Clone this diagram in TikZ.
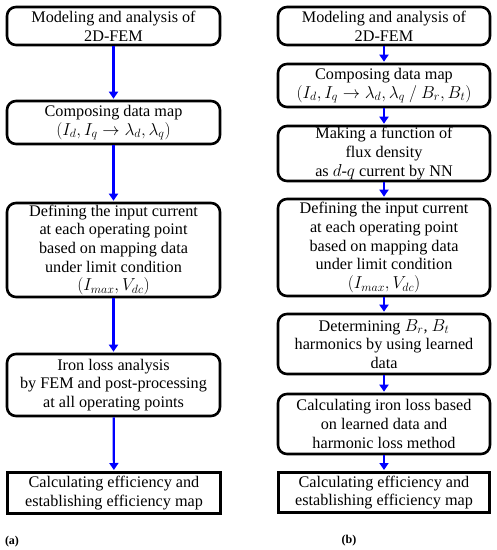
\documentclass[tikz,border=0pt]{standalone}
\usepackage{fontspec}
\setmainfont{Liberation Serif}
\usetikzlibrary{arrows.meta}
\newcommand{\mth}[1]{{\fontsize{16.5}{18.7}\selectfont$#1$}}
\begin{document}
\begin{tikzpicture}[x=1pt,y=-1pt,
  rbox/.style={draw=black, line width=2.6pt, rounded corners=9pt, align=center, inner sep=0pt, font=\fontsize{16.2}{18.7}\selectfont},
  sbox/.style={draw=black, line width=3pt, align=center, inner sep=0pt, font=\fontsize{16.2}{18.7}\selectfont},
  flow/.style={draw={rgb,255:red,0;green,0;blue,255}, line width=2.2pt, -{Triangle[length=7pt,width=9pt]}, shorten >=1pt},
  lab/.style={font=\fontsize{12}{14}\selectfont\bfseries, inner sep=0pt}]
\useasboundingbox (0,0) rectangle (497,550);
% left column
\node[rbox, minimum width=213pt, minimum height=38pt] (L1) at (113.5,26) {Modeling and analysis of\\2D-FEM};
\node[rbox, minimum width=213pt, minimum height=43pt] (L2) at (113.5,122.5) {Composing data map\\[0.5pt]\mth{(I_d, I_q \rightarrow \lambda_d, \lambda_q)}};
\node[rbox, minimum width=213pt, minimum height=94pt] (L3) at (113.5,250) {Defining the input current\\at each operating point\\based on mapping data\\under limit condition\\\mth{(I_{max}, V_{dc})}};
\node[rbox, minimum width=213pt, minimum height=62pt] (L4) at (113.5,385) {Iron loss analysis\\by FEM and post-processing\\at all operating points};
\node[sbox, minimum width=213pt, minimum height=41pt] (L5) at (114,493) {Calculating efficiency and\\establishing efficiency map};
\draw[flow] (L1) -- (L2);
\draw[flow] (L2) -- (L3);
\draw[flow] (L3) -- (L4);
\draw[flow] (L4) -- (L5);
\node[lab] (la) at (12,542) {(a)};
% right column
\node[rbox, minimum width=212pt, minimum height=38pt] (R1) at (384,26) {Modeling and analysis of\\2D-FEM};
\node[rbox, minimum width=212pt, minimum height=43pt] (R2) at (384,85.5) {Composing data map\\[0.5pt]\mth{(I_d, I_q \rightarrow \lambda_d, \lambda_q\ /\ B_r, B_t)}};
\node[rbox, minimum width=212pt, minimum height=55pt] (R3) at (384,153.5) {Making a function of\\flux density\\as \mth{d}-\mth{q} current by NN};
\node[rbox, minimum width=212pt, minimum height=97pt] (R4) at (384,247.5) {Defining the input current\\at each operating point\\based on mapping data\\under limit condition\\\mth{(I_{max}, V_{dc})}};
\node[rbox, minimum width=212pt, minimum height=60pt] (R5) at (384,344) {Determining \mth{B_r}, \mth{B_t}\\harmonics by using learned\\data};
\node[rbox, minimum width=212pt, minimum height=60pt] (R6) at (384,424) {Calculating iron loss based\\on learned data and\\harmonic loss method};
\node[sbox, minimum width=211pt, minimum height=40pt] (R7) at (384,492.5) {Calculating efficiency and\\establishing efficiency map};
\draw[flow] (R1) -- (R2);
\draw[flow] (R2) -- (R3);
\draw[flow] (R3) -- (R4);
\draw[flow] (R4) -- (R5);
\draw[flow] (R5) -- (R6);
\draw[flow] (R6) -- (R7);
\node[lab] (lb) at (349,541) {(b)};
\end{tikzpicture}
\end{document}
